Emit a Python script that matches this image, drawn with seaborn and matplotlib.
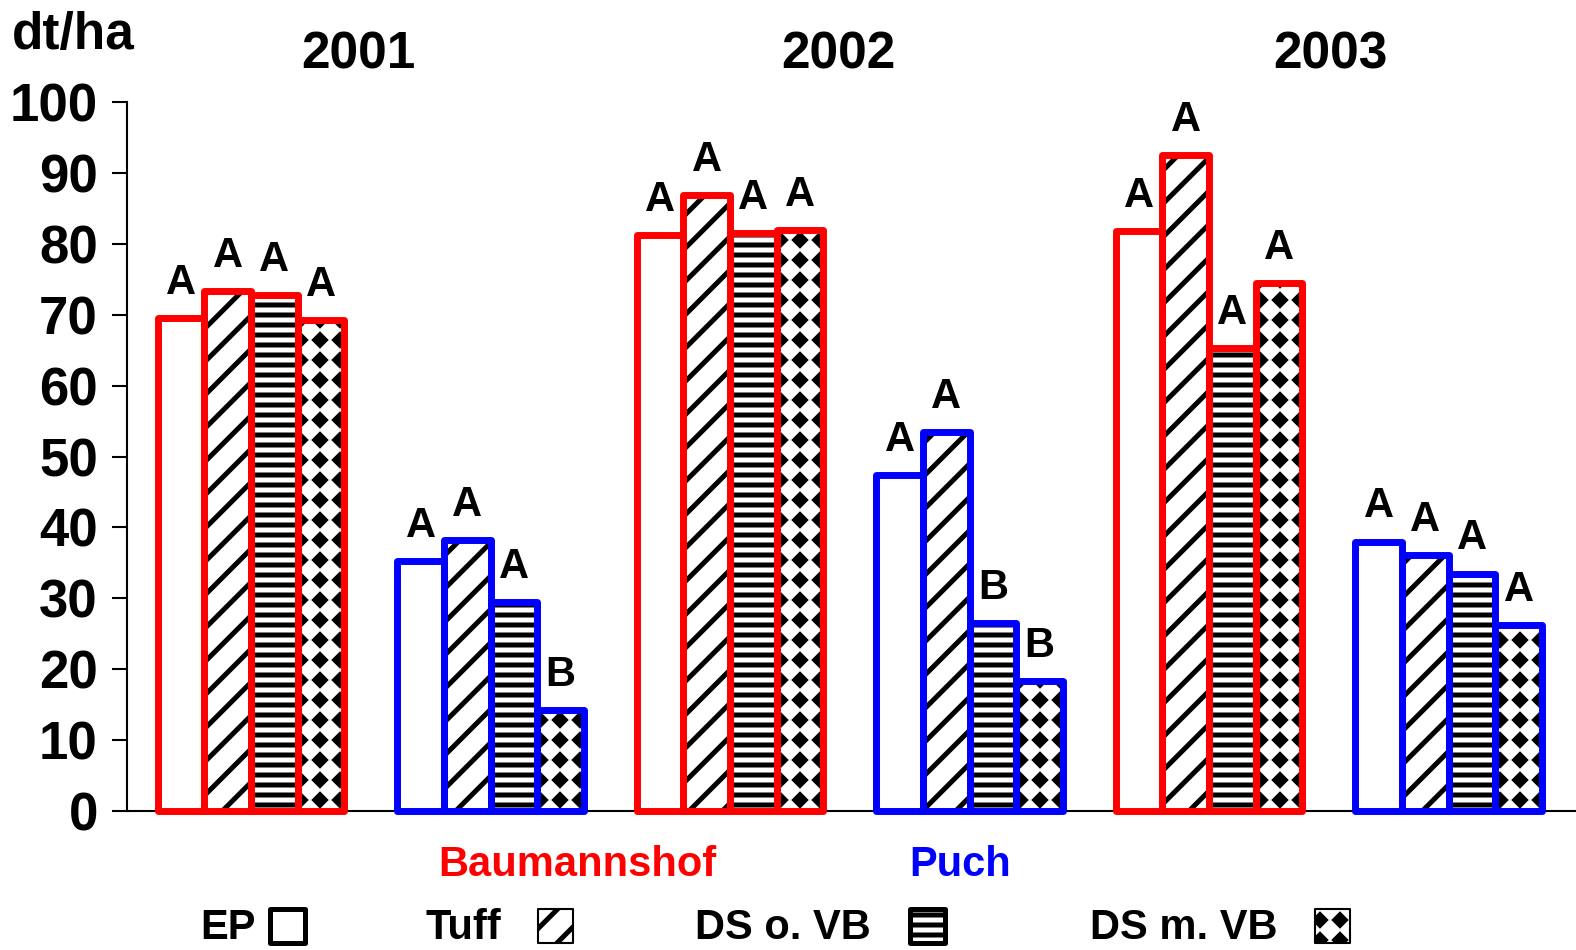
import numpy as np
import pandas as pd
import seaborn as sns
import matplotlib
matplotlib.use('Agg')
import matplotlib.pyplot as plt
import matplotlib.hatch as mhatch
from matplotlib.patches import Rectangle
from matplotlib.path import Path

# data (dt/ha)
years = ["2001", "2002", "2003"]
sites = ["Baumannshof", "Puch"]
treatments = ["EP", "Tuff", "DS o. VB", "DS m. VB"]
baumannshof_yield = [[69.5, 73.3, 72.8, 69.3],
                     [81.2, 86.9, 81.5, 82.0],
                     [81.8, 92.5, 65.3, 74.5]]
puch_yield = [[35.3, 38.2, 29.5, 14.2],
              [47.4, 53.5, 26.5, 18.3],
              [38.0, 36.1, 33.5, 26.2]]
baumannshof_letters = [["A", "A", "A", "A"],
                       ["A", "A", "A", "A"],
                       ["A", "A", "A", "A"]]
puch_letters = [["A", "A", "A", "B"],
                ["A", "A", "B", "B"],
                ["A", "A", "A", "A"]]
y_ticks = list(range(0, 101, 10))

site_colors = {"Baumannshof": "#FF0000", "Puch": "#0000FF"}
hatches = ["", "/", "-", "*"]


class StripeHatch(mhatch.HorizontalHatch):
    '''Horizontal lines, 10 per hatch unit for each "-".'''
    def __init__(self, hatch, density):
        self.num_lines = int((hatch.count('-') + hatch.count('+')) * 10)
        self.num_vertices = self.num_lines * 2


class DiamondHatch(mhatch.HatchPatternBase):
    '''Filled diamonds on a square grid, used in place of the star hatch.'''
    def __init__(self, hatch, density):
        self.num_rows = hatch.count('*') * 5
        self.num_vertices = 5 * (self.num_rows + 1) ** 2 if self.num_rows else 0

    def set_vertices_and_codes(self, vertices, codes):
        step = 1.0 / self.num_rows
        r = 0.26 * step
        shape = np.array([[0, -r], [r, 0], [0, r], [-r, 0], [0, -r]])
        kinds = [Path.MOVETO, Path.LINETO, Path.LINETO, Path.LINETO,
                 Path.CLOSEPOLY]
        k = 0
        for i in range(self.num_rows + 1):
            for j in range(self.num_rows + 1):
                vertices[k:k + 5] = shape + (i * step, j * step)
                codes[k:k + 5] = kinds
                k += 5


mhatch._hatch_types[mhatch._hatch_types.index(mhatch.HorizontalHatch)] = StripeHatch
mhatch._hatch_types[mhatch._hatch_types.index(mhatch.Stars)] = DiamondHatch

# long table for seaborn
rows = []
for i, year in enumerate(years):
    for site, vals, lets in [("Baumannshof", baumannshof_yield[i], baumannshof_letters[i]),
                             ("Puch", puch_yield[i], puch_letters[i])]:
        for t, v, l in zip(treatments, vals, lets):
            rows.append({"group": f"{year} {site}", "site": site,
                         "treatment": t, "yield": v, "letter": l})
df = pd.DataFrame(rows)
groups = list(dict.fromkeys(df["group"]))

sns.set_style("white")
plt.rcParams['font.family'] = ['Liberation Sans', 'DejaVu Sans']
plt.rcParams['font.weight'] = 'bold'
plt.rcParams['text.color'] = 'black'
plt.rcParams['ytick.color'] = 'black'
plt.rcParams['ytick.labelcolor'] = 'black'
plt.rcParams['hatch.linewidth'] = 3.6

fig = plt.figure(figsize=(15.76, 9.5), dpi=100)
ax = fig.add_axes([0.0806, 0.1463, 0.9194, 0.7463])

sns.barplot(data=df, x="group", y="yield", hue="treatment", order=groups,
            hue_order=treatments, palette=["white"] * 4, saturation=1,
            width=0.78, errorbar=None, legend=False, ax=ax,
            edgecolor="black", linewidth=0)

for container, hatch in zip(ax.containers, hatches):
    for bar in container:
        bar.set_hatch(hatch)

# coloured outlines + significance letters, drawn bar by bar
for j, group in enumerate(groups):
    sub = df[df["group"] == group].set_index("treatment")
    color = site_colors[sub["site"].iloc[0]]
    for k, t in enumerate(treatments):
        bar = ax.containers[k][j]
        x, w, h = bar.get_x(), bar.get_width(), bar.get_height()
        ax.add_patch(Rectangle((x, 0), w, h, fill=False, edgecolor=color,
                               lw=5, joinstyle="round", clip_on=False,
                               zorder=3))
        ax.text(x + w / 2, h + 3.4, sub.loc[t, "letter"], ha="center",
                va="baseline", fontsize=30, fontweight="bold")

ax.set_xlim(-0.518, 5.532)
ax.set_ylim(0, 100)
ax.set_yticks(y_ticks)
ax.set_xticks([])
ax.set_xlabel("")
ax.set_ylabel("")
ax.tick_params(axis="y", length=11, width=1.5, pad=10, labelsize=38,
               color="black", labelcolor="black", left=True)
for lab in ax.get_yticklabels():
    lab.set_fontweight("bold")
for side in ["top", "right"]:
    ax.spines[side].set_visible(False)
for side in ["left", "bottom"]:
    ax.spines[side].set_color("black")
    ax.spines[side].set_linewidth(1.5)

# year headings
year_x = [0.447, 2.451, 4.505]
for x, year in zip(year_x, years):
    ax.text(x, 106.6, year, ha="center", va="center", fontsize=37,
            fontweight="bold", clip_on=False)

# site names under the axis
ax.text(1.361, -7.6, "Baumannshof", ha="center", va="center", fontsize=30,
        fontweight="bold", color=site_colors["Baumannshof"], clip_on=False)
ax.text(2.96, -7.6, "Puch", ha="center", va="center", fontsize=30,
        fontweight="bold", color=site_colors["Puch"], clip_on=False)

fig.text(12 / 1576, 1 - 36 / 950, "dt/ha", ha="left", va="center",
         fontsize=37, fontweight="bold")

# legend row at the bottom: label, then swatch
W, H = 1576, 950
label_x = [200, 425, 695, 1090]
box_x = [270, 538, 910, 1315]
box_lw = [3.6, 1.5, 3.6, 1.5]
for t, lx, bx, hatch, lw in zip(treatments, label_x, box_x, hatches, box_lw):
    fig.text(lx / W, 1 - 928 / H, t, ha="left", va="center", fontsize=30,
             fontweight="bold")
    fig.add_artist(Rectangle((bx / W, 1 - 943 / H), 35 / W, 34 / H,
                             transform=fig.transFigure, facecolor="white",
                             edgecolor="black", hatch=hatch, lw=lw,
                             joinstyle="round"))

fig.savefig("out.png", dpi=100)
plt.close("all")
